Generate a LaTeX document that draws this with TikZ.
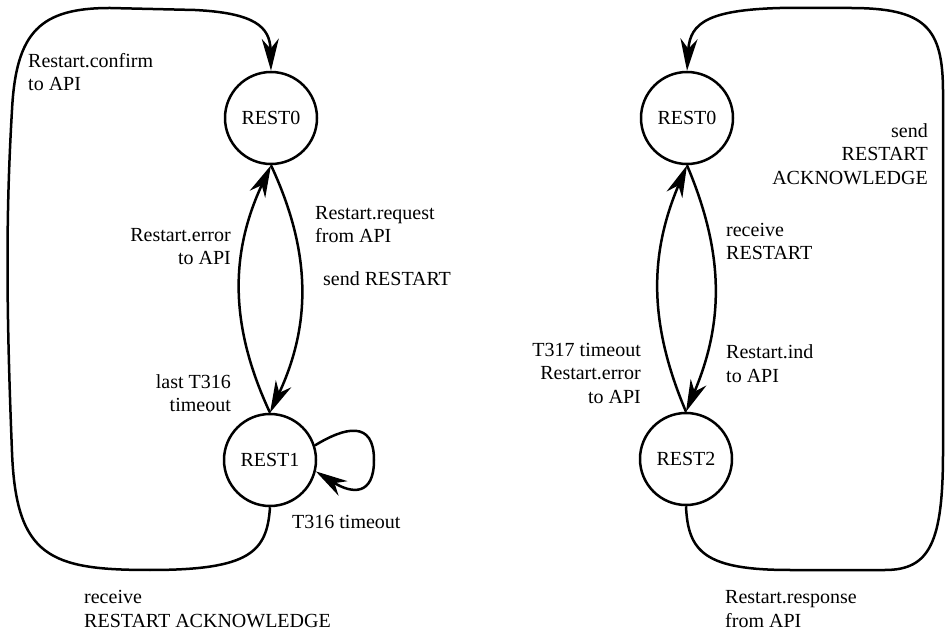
\documentclass[tikz,border=0pt]{standalone}
\usepackage{fontspec}
\setmainfont{Liberation Serif}
\usetikzlibrary{arrows.meta}
\begin{document}
\begin{tikzpicture}[x=1pt,y=1pt,
  state/.style={circle,draw,line width=2.5pt,minimum size=92pt,inner sep=0pt,font=\fontsize{20}{24}\selectfont},
  lbl/.style={inner sep=0pt,font=\fontsize{20}{23.5}\selectfont},
  edge/.style={line width=2.5pt},
  tip/.style={-{Stealth[length=32pt,width=17pt,inset=10pt]}}]
\useasboundingbox (0,0) rectangle (945,632);

% left machine
\node[state] (a0) at (271,514) {REST0};
\node[state] (a1) at (270,172) {REST1};

\draw[edge,tip] (a1.north) to[out=115,in=-115] (a0.south);
\draw[edge,tip] (a0.south) to[out=-65,in=65] (a1.north);
\draw[edge,tip] (a1.18) .. controls (345,205) and (374,212) .. (374,172)
  .. controls (374,136) and (352,138) .. (a1.-14);
\draw[edge,tip] (a1.south) .. controls (267,80) and (250,62) .. (150,62)
  .. controls (50,62) and (16,75) .. (12,180)
  .. controls (6,330) and (6,420) .. (12,522)
  .. controls (16,600) and (40,624) .. (110,624) -- (195,622)
  .. controls (255,619) and (270,605) .. (a0.north);

\node[lbl,anchor=west,align=left] (l1) at (28,560) {Restart.confirm\\to API};
\node[lbl,anchor=west,align=left] (l2) at (315,407.5) {Restart.request\\from API};
\node[lbl,anchor=west] (l3) at (323,353) {send RESTART};
\node[lbl,anchor=east,align=right] (l4) at (231,385.5) {Restart.error\\to API};
\node[lbl,anchor=east,align=right] (l5) at (231,239) {last T316\\timeout};
\node[lbl,anchor=west] (l6) at (292,110) {T316 timeout};
\node[lbl,anchor=west,align=left] (l7) at (84,23) {receive\\RESTART ACKNOWLEDGE};

% right machine
\node[state] (b0) at (687,514) {REST0};
\node[state] (b2) at (686,173) {REST2};

\draw[edge,tip] (b2.north) to[out=113,in=-113] (b0.south);
\draw[edge,tip] (b0.south) to[out=-67,in=67] (b2.north);
\draw[edge,tip] (b2.south) .. controls (688,80) and (705,62) .. (790,62)
  -- (885,62) .. controls (930,62) and (943,90) .. (943,180) -- (943,540)
  .. controls (943,605) and (925,624) .. (850,624) -- (780,624)
  .. controls (710,622) and (690,610) .. (b0.north);

\node[lbl,anchor=east,align=right] (r1) at (928,478) {send\\RESTART\\ACKNOWLEDGE};
\node[lbl,anchor=west,align=left] (r2) at (726,390.5) {receive\\RESTART};
\node[lbl,anchor=west,align=left] (r3) at (726,268.5) {Restart.ind\\to API};
\node[lbl,anchor=east,align=right] (r4) at (641,259) {T317 timeout\\Restart.error\\to API};
\node[lbl,anchor=west,align=left] (r5) at (725,23) {Restart.response\\from API};
\end{tikzpicture}
\end{document}
